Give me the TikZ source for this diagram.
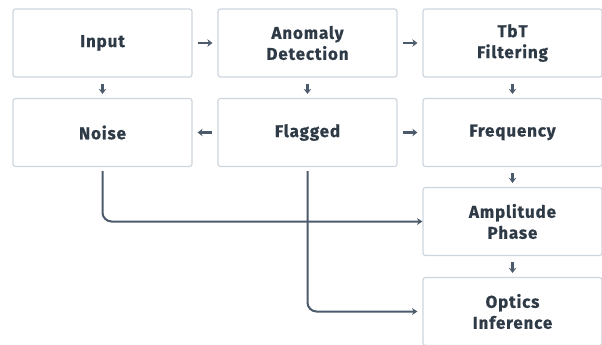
\documentclass[tikz,border=0pt]{standalone}
\usepackage{fontspec}
\setmainfont{Fira Sans}
\usetikzlibrary{arrows.meta}
\definecolor{boxline}{HTML}{CDD6DF}
\definecolor{ink}{HTML}{2E3A46}
\definecolor{wire}{HTML}{4B5B6B}
\tikzset{
  stage/.style={draw=boxline, line width=1.2pt, rounded corners=2.5pt, fill=white,
    minimum width=179pt, minimum height=68pt, align=center, text=ink,
    font=\fontsize{17}{21}\selectfont\bfseries\addfontfeatures{LetterSpace=5,FakeBold=0.6}},
  sarrow/.style={draw=wire, line width=2.4pt, -{Stealth[length=5pt,width=7.5pt]}},
  larrow/.style={draw=wire, line width=2pt, rounded corners=9pt, -{Stealth[length=5.5pt,width=7pt]}}
}
\begin{document}
\begin{tikzpicture}[x=1pt, y=-1pt]
\useasboundingbox (0,0) rectangle (602,345);
% stage boxes
\node[stage] (in)   at (102.5,43)    {Input};
\node[stage] (anom) at (307.5,43)    {Anomaly\\Detection};
\node[stage] (tbt)  at (512.5,43)    {TbT\\Filtering};
\node[stage] (noi)  at (102.5,132.5) {Noise};
\node[stage] (flag) at (307.5,132.5) {Flagged};
\node[stage] (freq) at (512.5,132.5) {Frequency};
\node[stage] (amp)  at (512.5,221.5) {Amplitude\\Phase};
\node[stage] (opt)  at (512.5,311.5) {Optics\\Inference};
% short links between neighbouring boxes
\draw[sarrow] ([xshift=5pt]in.east) -- ([xshift=-5pt]anom.west);
\draw[sarrow] ([xshift=5pt]anom.east) -- ([xshift=-5pt]tbt.west);
\draw[sarrow] ([xshift=-5pt]flag.west) -- ([xshift=5pt]noi.east);
\draw[sarrow] ([xshift=5pt]flag.east) -- ([xshift=-5pt]freq.west);
\draw[sarrow] ([yshift=-6pt]in.south) -- ([yshift=4pt]noi.north);
\draw[sarrow] ([yshift=-6pt]anom.south) -- ([yshift=4pt]flag.north);
\draw[sarrow] ([yshift=-6pt]tbt.south) -- ([yshift=4pt]freq.north);
\draw[sarrow] ([yshift=-6pt]freq.south) -- ([yshift=4pt]amp.north);
\draw[sarrow] ([yshift=-6pt]amp.south) -- ([yshift=4pt]opt.north);
% long routed links
\draw[larrow] ([yshift=-4pt]noi.south) |- (amp.west);
\draw[larrow] ([yshift=-4pt]flag.south) |- ([xshift=-5pt]opt.west);
\end{tikzpicture}
\end{document}
